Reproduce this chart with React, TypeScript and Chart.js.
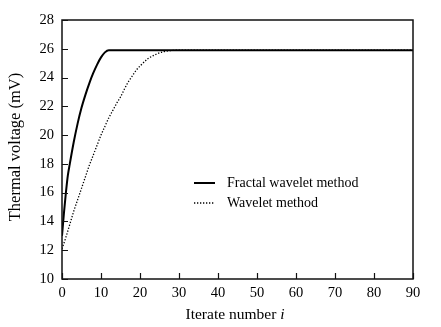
import React, { useEffect, useRef } from "react";
import { Chart, registerables } from "chart.js";

Chart.register(...registerables);

const fractalX = [0, 0.5, 1, 1.5, 2, 3, 4, 5, 6, 7, 8, 9, 10, 11, 12, 13, 90];
const fractalY = [13.0, 14.6, 16.0, 17.2, 18.0, 19.5, 20.8, 21.9, 22.8, 23.6, 24.3, 24.9, 25.4, 25.75, 25.9, 25.9, 25.9];

const waveletX = [0, 1, 2, 3, 4, 5, 6, 7, 8, 9, 10, 11, 12, 13, 14, 15, 16, 17, 18, 19, 20, 22, 24, 26, 28, 30, 90];
const waveletY = [12.1, 12.9, 13.8, 14.7, 15.5, 16.3, 17.1, 17.9, 18.6, 19.3, 20.0, 20.6, 21.2, 21.7, 22.2, 22.65, 23.2, 23.7, 24.1, 24.5, 24.8, 25.3, 25.6, 25.8, 25.88, 25.9, 25.9];

const seriesLabels = ["Fractal wavelet method", "Wavelet method"];
const xTitle = "Iterate number ";
const xTitleItalic = "i";
const yTitle = "Thermal voltage (mV)";

const FONT = "'Liberation Serif', 'Times New Roman', serif";

const framePlugin = {
  id: "frame",
  afterDraw(chart: any) {
    const { ctx, chartArea } = chart;
    const { left, right, top, bottom } = chartArea;
    const xs = chart.scales.x;
    const ys = chart.scales.y;
    ctx.save();
    ctx.strokeStyle = "#111";
    ctx.lineWidth = 1.5;
    ctx.strokeRect(left, top, right - left, bottom - top);
    ctx.lineWidth = 1.2;
    ctx.beginPath();
    xs.ticks.forEach((t: any) => {
      const px = Math.round(xs.getPixelForValue(t.value)) + 0.5;
      ctx.moveTo(px, bottom);
      ctx.lineTo(px, bottom - 6);
    });
    ys.ticks.forEach((t: any) => {
      const py = Math.round(ys.getPixelForValue(t.value)) + 0.5;
      ctx.moveTo(left, py);
      ctx.lineTo(left + 6, py);
    });
    ctx.stroke();

    // legend
    const lx = left + 132;
    const ly1 = top + 163;
    const ly2 = top + 183;
    ctx.strokeStyle = "#000";
    ctx.lineWidth = 2;
    ctx.setLineDash([]);
    ctx.beginPath();
    ctx.moveTo(lx, ly1);
    ctx.lineTo(lx + 21, ly1);
    ctx.stroke();
    ctx.lineWidth = 1.3;
    ctx.setLineDash([1.3, 1.7]);
    ctx.beginPath();
    ctx.moveTo(lx, ly2);
    ctx.lineTo(lx + 21, ly2);
    ctx.stroke();
    ctx.setLineDash([]);
    ctx.fillStyle = "#000";
    ctx.font = `14px ${FONT}`;
    ctx.textAlign = "left";
    ctx.textBaseline = "middle";
    ctx.fillText(seriesLabels[0], lx + 33, ly1);
    ctx.fillText(seriesLabels[1], lx + 33, ly2);

    // axis titles
    ctx.font = `15.5px ${FONT}`;
    const w1 = ctx.measureText(xTitle).width;
    ctx.font = `italic 15.5px ${FONT}`;
    const w2 = ctx.measureText(xTitleItalic).width;
    const cx = 235;
    const startX = cx - (w1 + w2) / 2;
    ctx.textBaseline = "alphabetic";
    ctx.font = `15.5px ${FONT}`;
    ctx.fillText(xTitle, startX, 319);
    ctx.font = `italic 15.5px ${FONT}`;
    ctx.fillText(xTitleItalic, startX + w1, 319);

    ctx.save();
    ctx.translate(16, 147);
    ctx.rotate(-Math.PI / 2);
    ctx.font = `16.5px ${FONT}`;
    ctx.textAlign = "center";
    ctx.textBaseline = "middle";
    ctx.fillText(yTitle, 0, 0);
    ctx.restore();
    ctx.restore();
  },
};

export default function App() {
  const ref = useRef<HTMLCanvasElement | null>(null);
  useEffect(() => {
    document.body.style.margin = "0";
    const canvas = ref.current;
    if (!canvas) return;
    const chart = new Chart(canvas, {
      type: "line",
      data: {
        datasets: [
          {
            label: seriesLabels[0],
            data: fractalX.map((x, i) => ({ x, y: fractalY[i] })),
            borderColor: "#000",
            borderWidth: 2,
            pointRadius: 0,
            cubicInterpolationMode: "monotone",
            fill: false,
          },
          {
            label: seriesLabels[1],
            data: waveletX.map((x, i) => ({ x, y: waveletY[i] })),
            borderColor: "#000",
            borderWidth: 1.3,
            borderDash: [1.3, 1.7],
            pointRadius: 0,
            cubicInterpolationMode: "monotone",
            fill: false,
          },
        ],
      },
      options: {
        animation: false,
        responsive: true,
        maintainAspectRatio: false,
        layout: { padding: { top: 20, right: 28, left: 0, bottom: 0 } },
        plugins: { legend: { display: false }, tooltip: { enabled: false } },
        scales: {
          x: {
            type: "linear",
            min: 0,
            max: 90,
            grid: { display: false, drawTicks: false },
            border: { display: false },
            ticks: { stepSize: 10, color: "#000", font: { family: FONT, size: 14.5 }, padding: 5, maxRotation: 0 },
            afterFit(scale: any) {
              scale.height = 48;
            },
          },
          y: {
            type: "linear",
            min: 10,
            max: 28,
            grid: { display: false, drawTicks: false },
            border: { display: false },
            ticks: { stepSize: 2, color: "#000", font: { family: FONT, size: 14.5 }, padding: 8 },
            afterFit(scale: any) {
              scale.width = 62;
            },
          },
        },
      },
      plugins: [framePlugin],
    } as any);
    return () => chart.destroy();
  }, []);
  return (
    <div style={{ width: 441, height: 327, position: "relative" }}>
      <canvas ref={ref} />
    </div>
  );
}
